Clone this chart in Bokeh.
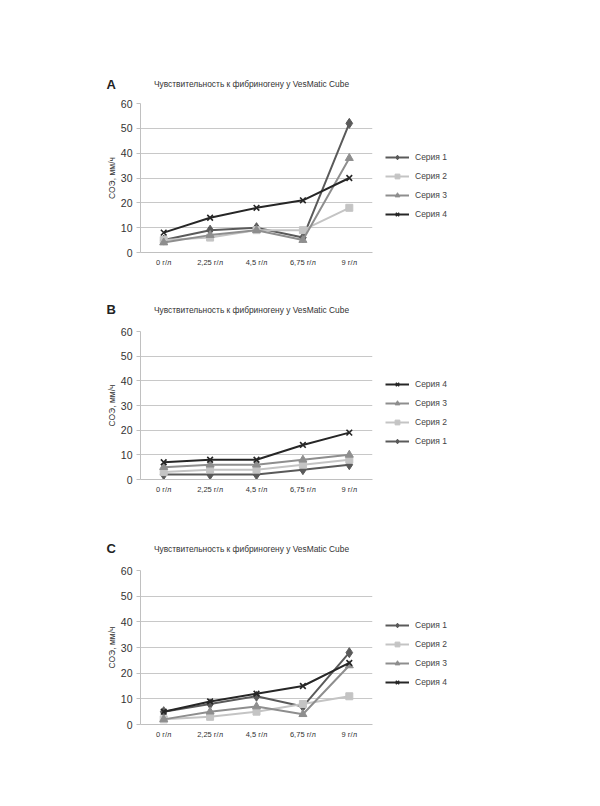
from bokeh.plotting import figure
from bokeh.models import Range1d, Legend, LegendItem, FixedTicker
from bokeh.layouts import column
from bokeh.core.properties import value
from bokeh.embed import file_html
from bokeh.resources import INLINE

categories = ["0 г/л", "2,25 г/л", "4,5 г/л", "6,75 г/л", "9 г/л"]
series_names = ["Серия 1", "Серия 2", "Серия 3", "Серия 4"]

a_s1 = [5, 9, 10, 6, 52]
a_s2 = [5, 6, 9, 9, 18]
a_s3 = [4, 7, 9, 5, 38]
a_s4 = [8, 14, 18, 21, 30]

b_s1 = [2, 2, 2, 4, 6]
b_s2 = [3, 4, 4, 6, 8]
b_s3 = [5, 6, 6, 8, 10]
b_s4 = [7, 8, 8, 14, 19]

c_s1 = [5, 8, 11, 7, 28]
c_s2 = [2, 3, 5, 8, 11]
c_s3 = [2, 5, 7, 4, 23]
c_s4 = [5, 9, 12, 15, 24]

y_ticks = [0, 10, 20, 30, 40, 50, 60]
panel_letters = ["A", "B", "C"]
title_text = "Чувствительность к фибриногену у VesMatic Cube"
y_label = "СОЭ, мм/ч"

colors = ["#5a5a5a", "#c4c4c4", "#8e8e8e", "#262626"]
markers = ["diamond", "square", "triangle", "x"]
msizes = [10, 7, 8, 8]
FONT = "Liberation Sans"
W = 584


def make_header(letter, h, text_y):
    p = figure(width=W, height=h, x_range=Range1d(0, W), y_range=Range1d(0, h),
               x_axis_location=None, y_axis_location=None,
               min_border=0, frame_align=False,
               output_backend="svg", toolbar_location=None)
    p.grid.visible = False
    p.outline_line_color = None
    p.text(x=[106], y=[text_y], text=[letter], text_font=value(FONT),
           text_font_size="13px", text_font_style="bold", text_color="#222222",
           text_align="left", text_baseline="middle")
    p.text(x=[251], y=[text_y], text=[title_text], text_font=value(FONT),
           text_font_size="8.4px", text_color="#333333",
           text_align="center", text_baseline="middle")
    return p


def make_panel(series, legend_order, frame_h, bottom, leg_y):
    p = figure(x_range=categories, y_range=Range1d(0, 60),
               width=W, frame_width=232, frame_height=frame_h,
               min_border_left=140, min_border_right=212,
               min_border_top=6, min_border_bottom=bottom,
               frame_align=False,
               output_backend="svg", toolbar_location=None)
    p.outline_line_color = None
    p.background_fill_color = "white"
    p.border_fill_color = "white"

    p.xgrid.grid_line_color = None
    p.ygrid.grid_line_color = "#c8c8c8"
    p.ygrid.grid_line_width = 1
    p.yaxis.ticker = FixedTicker(ticks=y_ticks)
    p.yaxis.axis_line_color = "#c0c0c0"
    p.yaxis.major_tick_line_color = "#c0c0c0"
    p.yaxis.major_tick_out = 4
    p.yaxis.major_tick_in = 0
    p.yaxis.minor_tick_line_color = None
    p.yaxis.major_label_text_font = FONT
    p.yaxis.major_label_text_font_size = "10.5px"
    p.yaxis.major_label_text_color = "#333333"
    p.yaxis.major_label_standoff = 4
    p.yaxis.axis_label = y_label
    p.yaxis.axis_label_text_font = FONT
    p.yaxis.axis_label_text_font_size = "8.5px"
    p.yaxis.axis_label_text_font_style = "normal"
    p.yaxis.axis_label_text_color = "#333333"
    p.yaxis.axis_label_standoff = 1

    p.xaxis.axis_line_color = "#c0c0c0"
    p.xaxis.major_tick_line_color = None
    p.xaxis.major_tick_out = 0
    p.xaxis.major_tick_in = 0
    p.xaxis.minor_tick_line_color = None
    p.xaxis.major_label_text_font = FONT
    p.xaxis.major_label_text_font_size = "7.5px"
    p.xaxis.major_label_text_color = "#333333"
    p.xaxis.major_label_standoff = 5

    items = {}
    for i, vals in enumerate(series):
        ln = p.line(categories, vals, line_color=colors[i], line_width=2)
        sc = p.scatter(categories, vals, marker=markers[i], size=msizes[i],
                       fill_color=colors[i], line_color=colors[i],
                       line_width=1.6 if markers[i] == "x" else 1)
        items[i] = LegendItem(label=series_names[i], renderers=[ln, sc])

    legend = Legend(items=[items[i] for i in legend_order], location=(13, leg_y))
    legend.label_text_font = FONT
    legend.label_text_font_size = "8.5px"
    legend.label_text_color = "#444444"
    legend.glyph_width = 24
    legend.glyph_height = 12
    legend.label_height = 12
    legend.spacing = 7
    legend.padding = 0
    legend.margin = 0
    legend.label_standoff = 6
    legend.border_line_color = None
    legend.background_fill_alpha = 0
    p.add_layout(legend, "right")
    return p


ha = make_header(panel_letters[0], 97, 13.5)
pa = make_panel([a_s1, a_s2, a_s3, a_s4], [0, 1, 2, 3], 149, 30, 32)
hb = make_header(panel_letters[1], 43, 16)
pb = make_panel([b_s1, b_s2, b_s3, b_s4], [3, 2, 1, 0], 148, 30, 32)
hc = make_header(panel_letters[2], 55, 16)
pc = make_panel([c_s1, c_s2, c_s3, c_s4], [0, 1, 2, 3], 154, 30, 36)

layout = column(ha, pa, hb, pb, hc, pc, spacing=0)
open("out.html", "w").write(file_html(layout, INLINE))
